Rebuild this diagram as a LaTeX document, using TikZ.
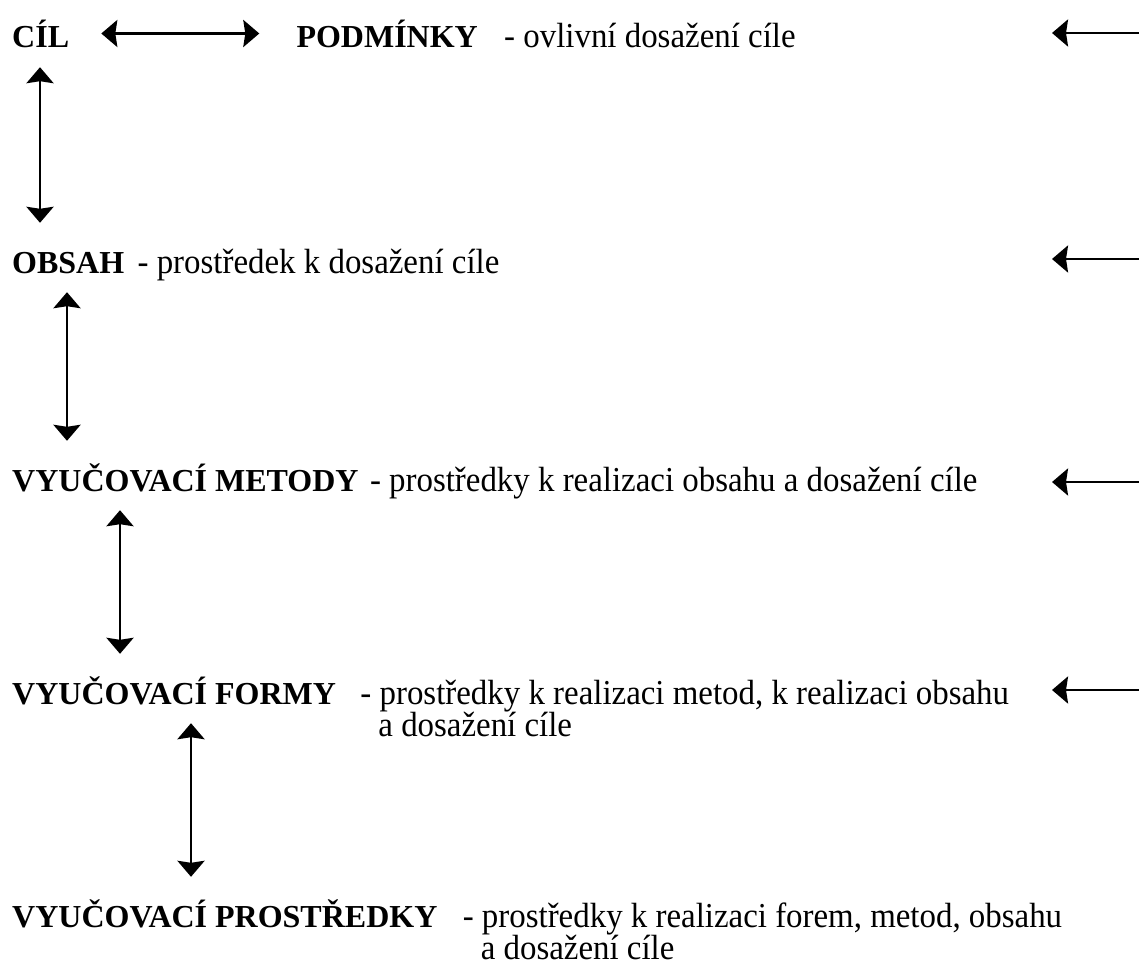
\documentclass[tikz,border=0pt]{standalone}
\usepackage{fontspec}
\setmainfont{Liberation Serif}
\newfontfamily\tallfont{Liberation Serif}[FakeStretch=0.94]
\usetikzlibrary{positioning,arrows.meta}

\begin{document}
\begin{tikzpicture}[
        x=1pt,y=-1pt,
        level/.style={
          inner sep=0pt,text height=23pt,text depth=0pt,anchor=base west,
          font=\fontsize{32}{33}\selectfont\bfseries},
        note/.style={
          inner sep=0pt,text height=24pt,text depth=0pt,anchor=base west,
          font=\fontsize{35}{33}\selectfont\tallfont},
        >={Stealth[width=27pt,length=16pt,inset=2pt]},
        link/.style={<->,line width=2.8pt},
        vlink/.style={link,shorten <=19pt,shorten >=27pt},
        input/.style={->,line width=2.8pt}]
      \useasboundingbox (0,0) rectangle (1139,965);
      % the chain on the left
      \node[level] (cil) at (12,48) {CÍL};
      \node[level] (obsah) at (12,273) {OBSAH};
      \node[level] (metody) at (12,491) {VYUČOVACÍ METODY};
      \node[level] (formy) at (12,704) {VYUČOVACÍ FORMY};
      \node[level] (prostredky) at (12,927) {VYUČOVACÍ PROSTŘEDKY};
      \node[level, right=227pt of cil.base east, anchor=base west] (podminky) {PODMÍNKY};
      % what each one is
      \node[note, right=26pt of podminky.base east, anchor=base west] (podminkynote) {- ovlivní dosažení cíle};
      \node[note, right=13pt of obsah.base east, anchor=base west] (obsahnote) {- prostředek k dosažení cíle};
      \node[note, right=11pt of metody.base east, anchor=base west] (metodynote) {- prostředky k realizaci obsahu a dosažení cíle};
      \node[note, right=24pt of formy.base east, anchor=base west] (formynote) {- prostředky k realizaci metod, k realizaci obsahu};
      \node[note, below=32pt of formynote.base west, anchor=base west, xshift=18pt] (formynote2) {a dosažení cíle};
      \node[note, right=25pt of prostredky.base east, anchor=base west] (prostredkynote) {- prostředky k realizaci forem, metod, obsahu};
      \node[note, below=32pt of prostredkynote.base west, anchor=base west, xshift=18pt] (prostredkynote2) {a dosažení cíle};
      % arrows
      \draw[link,shorten <=32pt,shorten >=37pt] ([yshift=3pt]cil.east) -- ([yshift=3pt]podminky.west);
      \draw[vlink] ([xshift=28pt]cil.south west) -- ([xshift=28pt]obsah.north west);
      \draw[vlink] ([xshift=55pt]obsah.south west) -- ([xshift=55pt]obsah.south west |- metody.north);
      \draw[vlink] ([xshift=108pt]metody.south west) -- ([xshift=108pt]metody.south west |- formy.north);
      \draw[vlink] ([xshift=179pt]formy.south west) -- ([xshift=179pt]formy.south west |- prostredky.north);
      \foreach \row/\y in {1/33,2/259,3/482,4/690}
        \coordinate (in\row) at (1139,\y);
      \foreach \row in {1,2,3,4}
        \draw[input] (in\row) -- ++(-87,0);
    \end{tikzpicture}
\end{document}
